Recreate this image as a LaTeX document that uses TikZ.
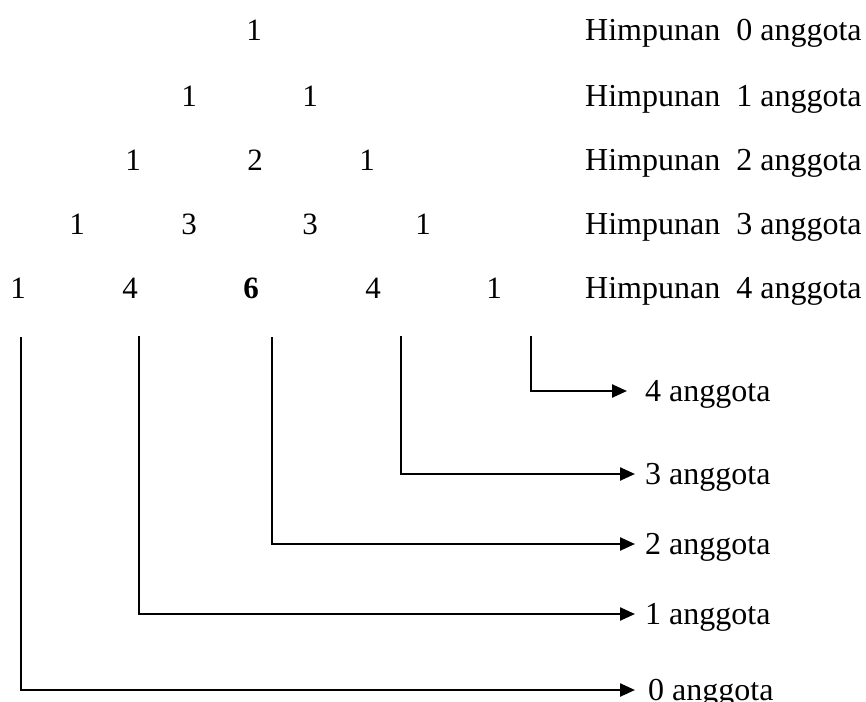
\documentclass[tikz,border=0pt]{standalone}
\usepackage{fontspec}
\setmainfont{Liberation Serif}
\usetikzlibrary{arrows.meta}
\begin{document}
\begin{tikzpicture}[x=1pt,y=-1pt,
  num/.style={anchor=base,inner sep=0pt,font=\fontsize{31}{36}\selectfont},
  him/.style={anchor=base west,inner sep=0pt,font=\fontsize{32}{38}\selectfont},
  lab/.style={anchor=west,inner ysep=0pt,inner xsep=10pt,text height=21pt,text depth=0pt,font=\fontsize{32}{38}\selectfont},
  vline/.style={line width=1.5pt},
  hline/.style={line width=2.4pt,-{Triangle[length=15pt,width=13pt]}}]
\useasboundingbox (0,0) rectangle (866,701);
% Pascal triangle rows
\node[num] (a0) at (254,41) {1};
\node[num] (b0) at (189,106) {1};
\node[num] (b1) at (310,106) {1};
\node[num] (c0) at (133,170) {1};
\node[num] (c1) at (255,170) {2};
\node[num] (c2) at (367,170) {1};
\node[num] (d0) at (77,234) {1};
\node[num] (d1) at (189,234) {3};
\node[num] (d2) at (310,234) {3};
\node[num] (d3) at (423,234) {1};
\node[num] (e0) at (18,298) {1};
\node[num] (e1) at (130,298) {4};
\node[num] (e2) at (251,298) {\textbf{6}};
\node[num] (e3) at (373,298) {4};
\node[num] (e4) at (494,298) {1};
% right labels
\node[him] (h0) at (585,41) {Himpunan\ \ 0 anggota};
\node[him] (h1) at (585,106) {Himpunan\ \ 1 anggota};
\node[him] (h2) at (585,170) {Himpunan\ \ 2 anggota};
\node[him] (h3) at (585,234) {Himpunan\ \ 3 anggota};
\node[him] (h4) at (585,298) {Himpunan\ \ 4 anggota};
% bottom labels
\node[lab] (l4) at (627,391) [inner xsep=18pt] {4 anggota};
\node[lab] (l3) at (635,474) {3 anggota};
\node[lab] (l2) at (635,544) {2 anggota};
\node[lab] (l1) at (635,614) {1 anggota};
\node[lab] (l0) at (635,690) [inner xsep=13pt] {0 anggota};
% line tops and corners
\coordinate (t0) at (21,337);
\coordinate (t1) at (139,336);
\coordinate (t2) at (272,337);
\coordinate (t3) at (401,336);
\coordinate (t4) at (531,336);
\coordinate (k0) at (21,690);
\coordinate (k1) at (139,614);
\coordinate (k2) at (272,544);
\coordinate (k3) at (401,474);
\coordinate (k4) at (531,391);
\foreach \i in {0,...,4}{
  \draw[vline] (t\i) -- (k\i);
  \draw[hline] ([xshift=-0.75pt]k\i) -- (l\i.west);
}
\end{tikzpicture}
\end{document}
